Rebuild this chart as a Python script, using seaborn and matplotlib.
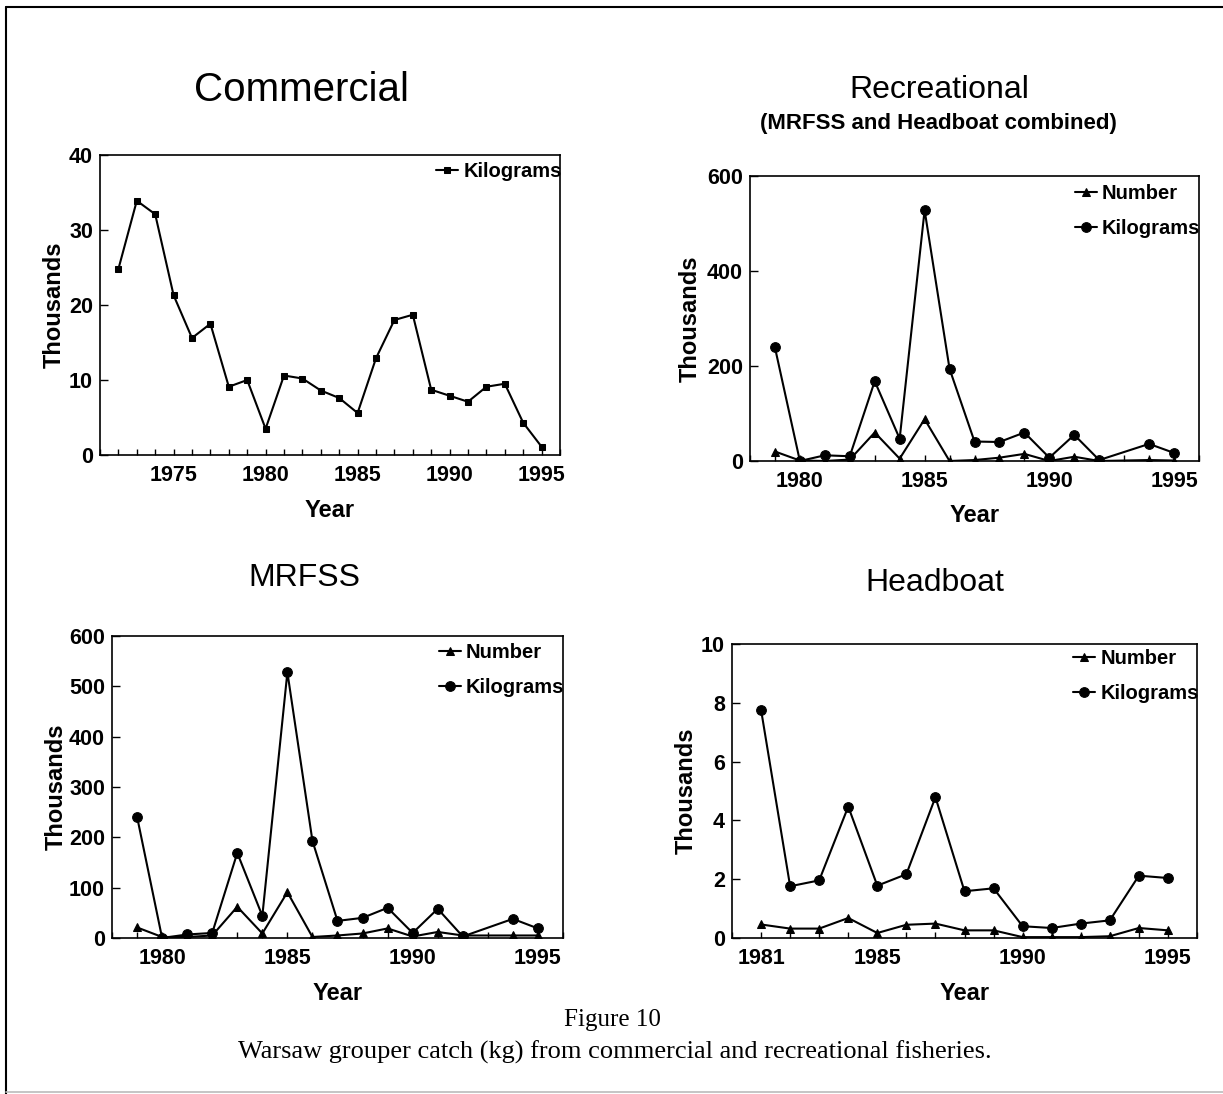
import matplotlib
matplotlib.use('Agg')
import matplotlib.pyplot as plt
import seaborn as sns
from matplotlib.lines import Line2D
from matplotlib.ticker import MultipleLocator

# Commercial catch, thousands of kg
comm_years = list(range(1972, 1996))
comm_kg = [24.8, 33.9, 32.1, 21.3, 15.6, 17.5, 9.1, 10.0, 3.5, 10.6, 10.2, 8.6,
           7.6, 5.6, 12.9, 18.0, 18.7, 8.7, 7.9, 7.1, 9.1, 9.5, 4.3, 1.1]

# Recreational, MRFSS and headboat combined (no 1993 point)
rec_years = [1979, 1980, 1981, 1982, 1983, 1984, 1985, 1986, 1987, 1988,
             1989, 1990, 1991, 1992, 1994, 1995]
rec_number = [20, 1, 0, 3, 60, 5, 88, 0, 2, 7, 15, 0, 9, 0, 2, 1]
rec_kg = [239, 0, 12, 10, 168, 47, 528, 194, 41, 40, 60, 7, 55, 2, 36, 17]

# MRFSS
mrfss_years = rec_years
mrfss_number = [21, 2, 2, 5, 62, 9, 91, 2, 5, 9, 19, 3, 12, 5, 5, 5]
mrfss_kg = [241, 0, 7, 10, 169, 44, 528, 193, 34, 40, 60, 10, 58, 3, 38, 19]

# Headboat
hb_years = list(range(1981, 1996))
hb_number = [0.46, 0.32, 0.32, 0.68, 0.17, 0.45, 0.49, 0.26, 0.26, 0.03,
             0.03, 0.03, 0.06, 0.34, 0.26]
hb_kg = [7.76, 1.76, 1.96, 4.47, 1.78, 2.17, 4.79, 1.59, 1.69, 0.40,
         0.34, 0.49, 0.60, 2.12, 2.04]

W, H = 1223, 1094

sns.set_style('ticks')
plt.rcParams['font.family'] = ['Liberation Sans', 'DejaVu Sans']
plt.rcParams['text.color'] = 'black'
plt.rcParams['axes.labelcolor'] = 'black'
plt.rcParams['xtick.color'] = 'black'
plt.rcParams['ytick.color'] = 'black'

fig = plt.figure(figsize=(W / 100, H / 100), dpi=100)


def rect(x0, y0, x1, y1):
    return [x0 / W, 1 - y1 / H, (x1 - x0) / W, (y1 - y0) / H]


def fx(x):
    return x / W


def fy(y):
    return 1 - y / H


def panel(box, years, series, ylim, ystep, xlim, xticks, ylab_x, xlab_y, leg_y=1.0):
    ax = fig.add_axes(rect(*box))
    for label, values, marker, ms in series:
        sns.lineplot(x=years, y=values, ax=ax, color='black', marker=marker,
                     markersize=ms, markeredgecolor='black', lw=1.5, label=label)
    ax.set_xlim(*xlim)
    ax.set_ylim(*ylim)
    ax.yaxis.set_major_locator(MultipleLocator(ystep))
    ax.set_xticks(xticks)
    ax.xaxis.set_minor_locator(MultipleLocator(1))
    ax.tick_params(which='both', direction='in', colors='black',
                   labelsize=15.5)
    ax.tick_params(axis='y', which='major', length=6, width=1, pad=5)
    ax.tick_params(axis='x', which='major', length=4, width=1, pad=7)
    ax.tick_params(axis='x', which='minor', length=4, width=1)
    for t in ax.get_xticklabels() + ax.get_yticklabels():
        t.set_fontweight('bold')
    for s in ax.spines.values():
        s.set_linewidth(1.2)
        s.set_color('black')
    ax.set_ylabel('Thousands', fontsize=17, fontweight='bold')
    ax.set_xlabel('Year', fontsize=17, fontweight='bold')
    ax.yaxis.set_label_coords(ylab_x, 0.5)
    ax.xaxis.set_label_coords(0.5, xlab_y)
    ax.legend(loc='upper right', bbox_to_anchor=(1.03, leg_y), frameon=False,
              handlelength=1.1, handletextpad=0.25, labelspacing=0.8,
              borderaxespad=0.2, prop=dict(weight='bold', size=14.5))
    return ax


panel((100, 155, 560, 455), comm_years,
      [('Kilograms', comm_kg, 's', 5)],
      (0, 40), 10, (1971, 1996), [1975, 1980, 1985, 1990, 1995], -0.074, -0.148,
      leg_y=1.017)

panel((750, 176, 1199, 461), rec_years,
      [('Number', rec_number, '^', 6), ('Kilograms', rec_kg, 'o', 7)],
      (0, 600), 200, (1978, 1996), [1980, 1985, 1990, 1995], -0.108, -0.152,
      leg_y=1.015)

panel((112, 636, 563, 938), mrfss_years,
      [('Number', mrfss_number, '^', 6), ('Kilograms', mrfss_kg, 'o', 7)],
      (0, 600), 100, (1978, 1996), [1980, 1985, 1990, 1995], -0.098, -0.146,
      leg_y=1.018)

panel((732, 644, 1197, 938), hb_years,
      [('Number', hb_number, '^', 6), ('Kilograms', hb_kg, 'o', 7)],
      (0, 10), 2, (1980, 1996), [1981, 1985, 1990, 1995], -0.073, -0.150,
      leg_y=1.023)

# panel titles
fig.text(fx(301), fy(90), 'Commercial', ha='center', va='center', fontsize=29)
fig.text(fx(939), fy(90), 'Recreational', ha='center', va='center', fontsize=23)
fig.text(fx(938), fy(123), '(MRFSS and Headboat combined)', ha='center',
         va='center', fontsize=16, fontweight='bold')
fig.text(fx(304), fy(578), 'MRFSS', ha='center', va='center', fontsize=23)
fig.text(fx(935), fy(583), 'Headboat', ha='center', va='center', fontsize=23)

# caption
fig.text(fx(612), fy(1020), 'Figure 10', ha='center', va='center',
         fontsize=18, family='Liberation Serif')
fig.text(fx(615), fy(1052),
         'Warsaw grouper catch (kg) from commercial and recreational fisheries.',
         ha='center', va='center', fontsize=19, family='Liberation Serif')

# page frame
fig.add_artist(Line2D([fx(6), 1], [fy(7), fy(7)], color='black', lw=1.5))
fig.add_artist(Line2D([fx(6), fx(6)], [fy(7), 0], color='black', lw=1.5))
fig.add_artist(Line2D([fx(6), 1], [fy(1092), fy(1092)], color='#bbbbbb', lw=1.2))

fig.savefig('out.png', dpi=100)
